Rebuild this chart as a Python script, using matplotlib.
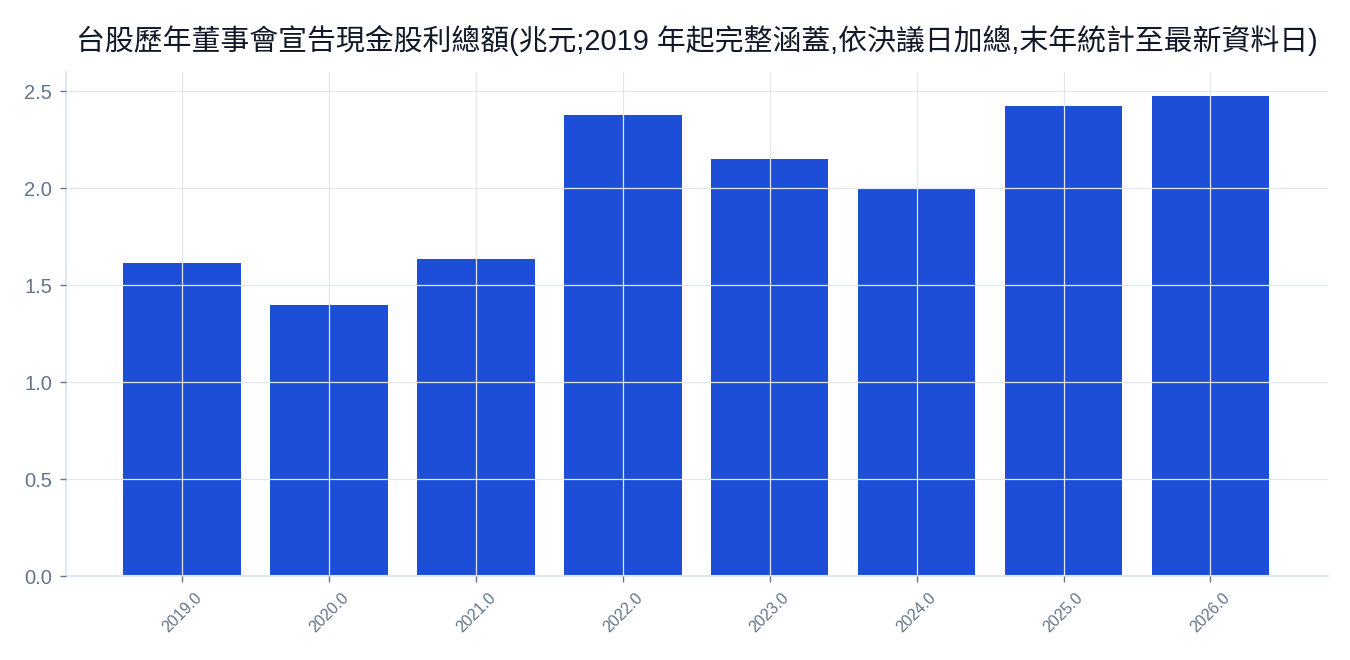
import matplotlib
matplotlib.use("Agg")
import matplotlib.pyplot as plt

years = [2019.0, 2020.0, 2021.0, 2022.0, 2023.0, 2024.0, 2025.0, 2026.0]
dividends = [1.613, 1.397, 1.634, 2.376, 2.149, 2.000, 2.423, 2.474]
title = "台股歷年董事會宣告現金股利總額(兆元;2019 年起完整涵蓋,依決議日加總,末年統計至最新資料日)"

plt.rcParams['font.family'] = ['Liberation Sans', 'Noto Sans CJK TC', 'DejaVu Sans']

fig = plt.figure(figsize=(13.5, 6.6), dpi=100)
ax = fig.add_axes([66 / 1350, 1 - 576 / 660, (1328 - 66) / 1350, (576 - 72) / 660])

ax.bar(years, dividends, width=0.8, color="#1d4ed8", zorder=1)
ax.set_axisbelow(False)
ax.grid(True, color="#e2e8f0", linewidth=0.9)

ax.set_xlim(2018.21, 2026.8)
ax.set_ylim(0, 2.6)
ax.set_xticks(years)
ax.set_xticklabels([f"{y:.1f}" for y in years], rotation=45, fontsize=11.5, color="#64748b")
ax.set_yticks([0, 0.5, 1.0, 1.5, 2.0, 2.5])
ax.set_yticklabels(["0.0", "0.5", "1.0", "1.5", "2.0", "2.5"], fontsize=14.5, color="#64748b")
ax.tick_params(axis="both", color="#64748b", length=4, width=1)
ax.tick_params(axis="x", pad=6)
ax.tick_params(axis="y", pad=6)

for s in ["top", "right"]:
    ax.spines[s].set_visible(False)
for s in ["left", "bottom"]:
    ax.spines[s].set_color("#e2e8f0")
    ax.spines[s].set_linewidth(1.5)

ax.set_title(title, fontsize=20.8, color="#111827", pad=16)

fig.savefig("out.png", dpi=100)
